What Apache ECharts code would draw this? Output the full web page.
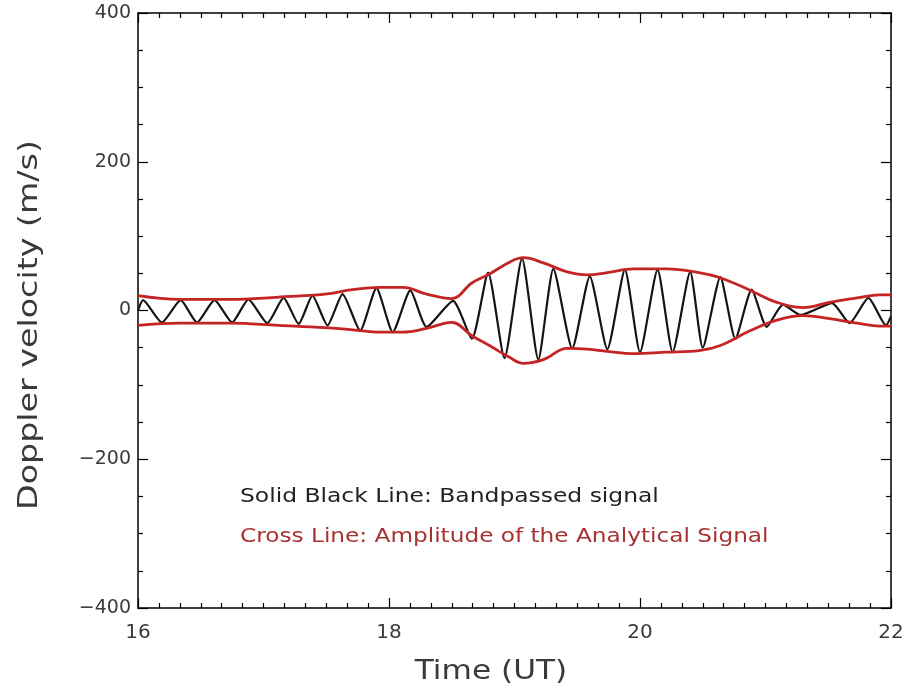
<!DOCTYPE html>
<html>
<head>
<meta charset="utf-8">
<script src="https://cdn.jsdelivr.net/npm/echarts@6/dist/echarts.min.js"></script>
<style>
  html, body { margin: 0; padding: 0; background: #fff; }
  #chart { width: 909px; height: 698px; }
</style>
</head>
<body>
<div id="chart"></div>
<script>
// Bandpassed Doppler velocity: times (UT hours) of successive turning points and their values (m/s)
const signalTime = [
  16.00, 16.04, 16.19, 16.34, 16.47, 16.61, 16.75, 16.88, 17.03, 17.16,
  17.28, 17.39, 17.51, 17.63, 17.77, 17.90, 18.03, 18.17, 18.30, 18.51,
  18.66, 18.79, 18.92, 19.06, 19.19, 19.31, 19.46, 19.60, 19.74, 19.88,
  20.00, 20.14, 20.26, 20.40, 20.50, 20.64, 20.76, 20.89, 21.01, 21.14,
  21.28, 21.53, 21.67, 21.82, 21.96, 22.00
];
const signalValue = [
    0,  14, -16,  14, -16,  14, -16,  15, -17,  17,
  -18,  20, -20,  22, -27,  30, -29,  27, -22,  13,
  -38,  51, -64,  70, -66,  56, -51,  46, -52,  55,
  -56,  55, -56,  52, -50,  45, -38,  28, -22,   8,
   -6,  10, -17,  17, -20,  -8
];

// Amplitude of the analytical signal (upper and lower envelope)
const envelopeTime = [
  16.00, 16.33, 16.73, 17.12, 17.49, 17.71, 17.93, 18.11, 18.30, 18.50,
  18.66, 18.80, 18.96, 19.07, 19.23, 19.42, 19.58, 19.74, 19.95, 20.21,
  20.47, 20.64, 20.88, 21.09, 21.30, 21.51, 21.73, 21.91, 22.00
];
const envelopeUpper = [
  20, 15, 15, 18, 22, 28, 31, 31, 22, 16,
  37, 49, 65, 71, 64, 52, 48, 51, 56, 56,
  51, 44, 27, 11,  4, 11, 17, 21, 21
];
const envelopeLower = [
  -20, -17, -17, -20, -23, -26, -29, -29, -24, -16,
  -34, -47, -63, -71, -66, -51, -52, -55, -58, -56,
  -54, -47, -27, -13,  -7, -11, -17, -21, -21
];

// Axis ticks
const xTickLabels = ['16', '18', '20', '22'];
const yTickLabels = ['−400', '−200', '0', '200', '400'];

const FONT = 'DejaVu Sans';
const TEXT = '#3a3a3a';
const RED = '#c42424';

const pairs = (xs, ys) => xs.map((x, i) => [x, ys[i]]);

const chart = echarts.init(document.getElementById('chart'), null, { renderer: 'canvas' });

const xBase = {
  type: 'value', min: 16, max: 22, interval: 2,
  axisLine: { show: true, onZero: false, lineStyle: { color: '#000', width: 1.5 } },
  axisTick: { show: true, inside: true, length: 10, lineStyle: { color: '#000', width: 1.2 } },
  minorTick: { show: true, splitNumber: 12, length: 5, lineStyle: { color: '#000', width: 1.2 } },
  splitLine: { show: false }
};
const yBase = {
  type: 'value', min: -400, max: 400, interval: 200,
  axisLine: { show: true, onZero: false, lineStyle: { color: '#000', width: 1.5 } },
  axisTick: { show: true, inside: true, length: 10, lineStyle: { color: '#000', width: 1.2 } },
  minorTick: { show: true, splitNumber: 4, length: 5, lineStyle: { color: '#000', width: 1.2 } },
  splitLine: { show: false }
};

chart.setOption({
  animation: false,
  backgroundColor: '#fff',
  grid: { left: 138, right: 18, top: 13, bottom: 90, containLabel: false },
  xAxis: [
    Object.assign({}, xBase, {
      position: 'bottom',
      axisLabel: {
        show: true, margin: 15, fontFamily: FONT, fontSize: 20, color: TEXT,
        formatter: v => xTickLabels[Math.round((v - 16) / 2)]
      }
    }),
    Object.assign({}, xBase, { position: 'top', axisLabel: { show: false } })
  ],
  yAxis: [
    Object.assign({}, yBase, {
      position: 'left',
      axisLabel: {
        show: true, margin: 7, fontFamily: FONT, fontSize: 19, color: TEXT,
        formatter: v => yTickLabels[Math.round((v + 400) / 200)]
      }
    }),
    Object.assign({}, yBase, { position: 'right', axisLabel: { show: false } })
  ],
  series: [
    {
      name: 'Bandpassed signal', type: 'line', xAxisIndex: 0, yAxisIndex: 0,
      data: pairs(signalTime, signalValue),
      showSymbol: false, smooth: 0.2,
      lineStyle: { color: '#141414', width: 2.2 }, z: 3
    },
    {
      name: 'Amplitude upper', type: 'line', xAxisIndex: 0, yAxisIndex: 0,
      data: pairs(envelopeTime, envelopeUpper),
      showSymbol: false, smooth: 0.4,
      lineStyle: { color: RED, width: 2.8 }, z: 4
    },
    {
      name: 'Amplitude lower', type: 'line', xAxisIndex: 0, yAxisIndex: 0,
      data: pairs(envelopeTime, envelopeLower),
      showSymbol: false, smooth: 0.4,
      lineStyle: { color: RED, width: 2.8 }, z: 4
    }
  ],
  graphic: [
    {
      type: 'text', x: 30, y: 325, rotation: Math.PI / 2, scaleX: 1.28,
      style: {
        text: 'Doppler velocity (m/s)', fontFamily: FONT, fontSize: 26, fill: TEXT,
        align: 'center', verticalAlign: 'middle'
      }
    },
    {
      type: 'text', x: 491, y: 672, scaleX: 1.2,
      style: {
        text: 'Time (UT)', fontFamily: FONT, fontSize: 26, fill: TEXT,
        align: 'center', verticalAlign: 'middle'
      }
    },
    {
      type: 'text', x: 240, y: 497, scaleX: 1.17,
      style: {
        text: 'Solid Black Line: Bandpassed signal', fontFamily: FONT, fontSize: 20, fill: '#222',
        align: 'left', verticalAlign: 'middle'
      }
    },
    {
      type: 'text', x: 240, y: 537, scaleX: 1.16,
      style: {
        text: 'Cross Line: Amplitude of the Analytical Signal', fontFamily: FONT, fontSize: 20, fill: '#a83232',
        align: 'left', verticalAlign: 'middle'
      }
    }
  ]
});
</script>
</body>
</html>
